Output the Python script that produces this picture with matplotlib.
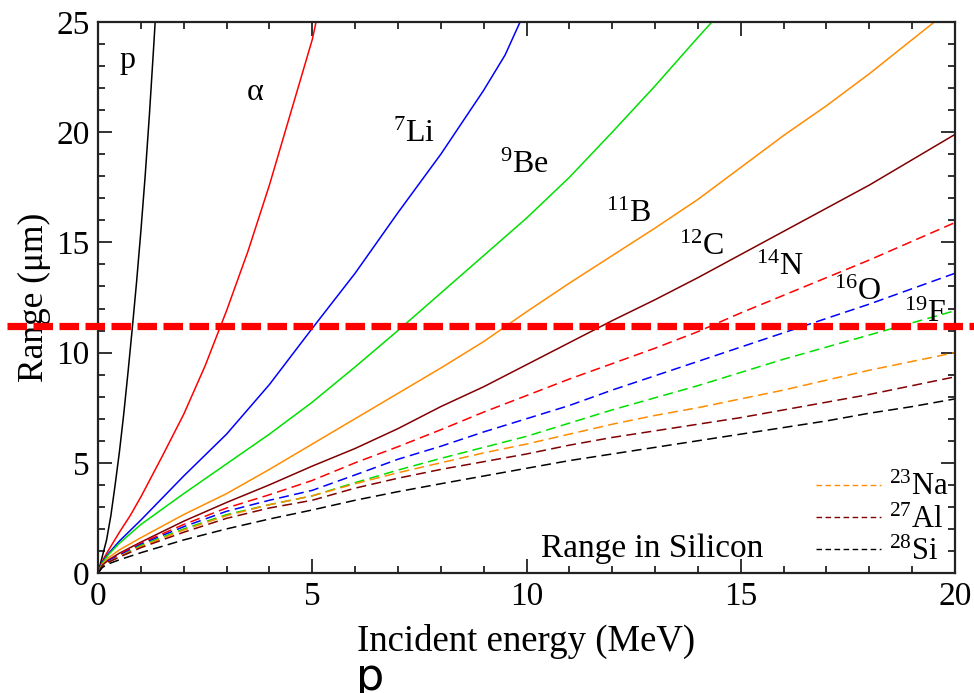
import numpy as np
import matplotlib
matplotlib.use("Agg")
import matplotlib.pyplot as plt
from matplotlib.ticker import MultipleLocator
from matplotlib.lines import Line2D

plt.rcParams['font.family'] = ['Liberation Serif', 'DejaVu Serif']
plt.rcParams['mathtext.fontset'] = 'custom'
plt.rcParams['mathtext.rm'] = 'Liberation Serif'
plt.rcParams['mathtext.it'] = 'Liberation Serif:italic'

# ranges in silicon (um) vs incident energy (MeV)
e_p = [0, 0.1, 0.2, 0.3, 0.4, 0.5, 0.6, 0.7, 0.8, 0.9, 1.0, 1.1, 1.2, 1.3, 1.34]
r_p = [0, 0.75, 1.5, 2.6, 4.0, 5.5, 7.2, 9.1, 11.1, 13.2, 15.5, 18.0, 20.8, 23.9, 25.2]

e_a = [0, 0.1, 0.25, 0.5, 0.75, 1.0, 1.5, 2.0, 2.5, 3.0, 3.5, 4.0, 4.5, 5.0, 5.1]
r_a = [0, 0.55, 1.05, 1.85, 2.6, 3.45, 5.3, 7.2, 9.4, 11.9, 14.6, 17.6, 20.9, 24.2, 25.1]

e_li = [0, 0.1, 0.25, 0.5, 1, 1.5, 2, 3, 4, 5, 6, 7, 8, 9, 9.5, 9.85]
r_li = [0, 0.5, 0.9, 1.45, 2.4, 3.4, 4.4, 6.3, 8.55, 11.1, 13.6, 16.35, 19.0, 21.9, 23.5, 25.0]

e_be = [0, 0.1, 0.25, 0.5, 1, 2, 3, 4, 5, 6, 7, 8, 9, 10, 11, 12, 13, 14, 14.35]
r_be = [0, 0.45, 0.85, 1.35, 2.2, 3.6, 4.95, 6.3, 7.75, 9.35, 11.0, 12.7, 14.4, 16.1,
        17.95, 20.0, 22.1, 24.3, 25.05]

e_b = [0, 0.1, 0.25, 0.5, 1, 2, 3, 4, 5, 6, 7, 8, 9, 10, 11, 12, 13, 14, 15, 16, 17,
       18, 19, 19.55]
r_b = [0, 0.4, 0.7, 1.05, 1.6, 2.65, 3.6, 4.7, 5.85, 7.0, 8.15, 9.3, 10.5, 11.85, 13.15,
       14.4, 15.65, 16.95, 18.4, 19.85, 21.2, 22.65, 24.2, 25.05]

e_heavy = [0, 0.1, 0.25, 0.5, 1, 2, 3, 4, 5, 6, 7, 8, 9, 10, 11, 12, 13, 14, 15, 16, 17,
           18, 19, 20]
r_c = [0, 0.35, 0.6, 0.9, 1.4, 2.35, 3.2, 4.0, 4.85, 5.65, 6.55, 7.55, 8.45, 9.45, 10.45,
       11.45, 12.4, 13.4, 14.45, 15.5, 16.55, 17.6, 18.75, 19.9]
r_n = [0, 0.3, 0.55, 0.85, 1.35, 2.2, 2.95, 3.55, 4.2, 5.0, 5.73, 6.5, 7.3, 8.05, 8.8, 9.5,
       10.2, 10.95, 11.8, 12.6, 13.4, 14.2, 15.05, 15.9]
r_o = [0, 0.3, 0.55, 0.8, 1.3, 2.1, 2.8, 3.3, 3.75, 4.45, 5.16, 5.75, 6.4, 7.0, 7.6, 8.3,
       8.95, 9.6, 10.25, 10.9, 11.55, 12.2, 12.9, 13.6]
r_f = [0, 0.3, 0.5, 0.75, 1.25, 2.0, 2.65, 3.1, 3.5, 4.1, 4.67, 5.2, 5.7, 6.2, 6.8, 7.4,
       7.95, 8.5, 9.1, 9.7, 10.25, 10.8, 11.35, 11.9]
r_na = [0, 0.3, 0.5, 0.75, 1.2, 1.95, 2.6, 3.1, 3.5, 4.05, 4.55, 5.0, 5.45, 5.85, 6.3, 6.75,
        7.15, 7.5, 7.9, 8.3, 8.75, 9.2, 9.6, 10.0]
r_al = [0, 0.3, 0.5, 0.72, 1.15, 1.85, 2.48, 2.95, 3.3, 3.85, 4.3, 4.7, 5.05, 5.4, 5.8, 6.15,
        6.45, 6.75, 7.05, 7.4, 7.75, 8.1, 8.5, 8.9]
r_si = [0, 0.25, 0.42, 0.6, 0.92, 1.5, 2.0, 2.45, 2.86, 3.3, 3.69, 4.05, 4.4, 4.75, 5.1,
        5.4, 5.7, 6.0, 6.3, 6.6, 6.9, 7.25, 7.55, 7.9]

cut_depth = 11.2

RED, BLUE, GREEN, ORANGE, MAROON = '#ff0000', '#0000ff', '#00e000', '#ff8c00', '#800000'

fig = plt.figure(figsize=(9.74, 6.93), dpi=100)
ax = fig.add_axes([98 / 974, 1 - 573 / 693, 857 / 974, 551 / 693])

solid = [(e_p, r_p, 'k'), (e_a, r_a, RED), (e_li, r_li, BLUE), (e_be, r_be, GREEN),
         (e_b, r_b, ORANGE), (e_heavy, r_c, MAROON)]
for e, r, c in solid:
    ax.plot(e, r, color=c, lw=1.1)

dashed = [(r_n, RED), (r_o, BLUE), (r_f, GREEN), (r_na, ORANGE), (r_al, MAROON), (r_si, 'k')]
for r, c in dashed:
    ax.plot(e_heavy, r, color=c, lw=1.1, dashes=(6.5, 3.5))

# sensitive-depth marker, runs across the whole figure
ax.plot([-2.12, 21.5], [cut_depth, cut_depth], color='#ff0000', lw=5.2,
        dashes=(2.7, 0.9), clip_on=False, zorder=10)

ax.set_xlim(0, 20)
ax.set_ylim(0, 25)
ax.xaxis.set_major_locator(MultipleLocator(5))
ax.xaxis.set_minor_locator(MultipleLocator(1))
ax.yaxis.set_major_locator(MultipleLocator(5))
ax.yaxis.set_minor_locator(MultipleLocator(1))
ax.tick_params(which='both', direction='in', top=True, right=True, width=1.3,
               color='#222222', labelsize=24)
ax.tick_params(which='major', length=10, pad=6)
ax.tick_params(which='minor', length=5)
for s in ax.spines.values():
    s.set_linewidth(1.6)
    s.set_color('#222222')

ax.set_xlabel('Incident energy (MeV)', fontsize=26.5, labelpad=9)
ax.set_ylabel('Range (\u03bcm)', fontsize=25.5, labelpad=4)

labels = [(0.49, 22.91, 'p'), (3.48, 21.46, '\u03b1'), (6.885, 19.57, r'$^{7}$Li'),
          (9.37, 18.14, r'$^{9}$Be'), (11.855, 15.94, r'$^{11}$B'), (13.57, 14.43, r'$^{12}$C'),
          (15.36, 13.52, r'$^{14}$N'), (17.18, 12.39, r'$^{16}$O'), (18.81, 11.4, r'$^{19}$F')]
for x, y, s in labels:
    ax.text(x, y, s, fontsize=23, ha='left', va='baseline')

ax.text(10.35, 0.74, 'Range in Silicon', fontsize=24, ha='left', va='baseline')

handles = [Line2D([], [], color=ORANGE, lw=1.0, dashes=(4, 2.5)),
           Line2D([], [], color=MAROON, lw=1.0, dashes=(4, 2.5)),
           Line2D([], [], color='k', lw=1.0, dashes=(4, 2.5))]
ax.legend(handles, [r'$^{23}$Na', r'$^{27}$Al', r'$^{28}$Si'], loc='lower right',
          frameon=False, fontsize=22, handlelength=2.15, handletextpad=0.26,
          labelspacing=0.1, borderaxespad=0.2, borderpad=0.0)

fig.text(356 / 974, 3 / 693, 'p', fontsize=32, family='DejaVu Sans',
         ha='left', va='baseline')

fig.savefig('out.png', dpi=100)
